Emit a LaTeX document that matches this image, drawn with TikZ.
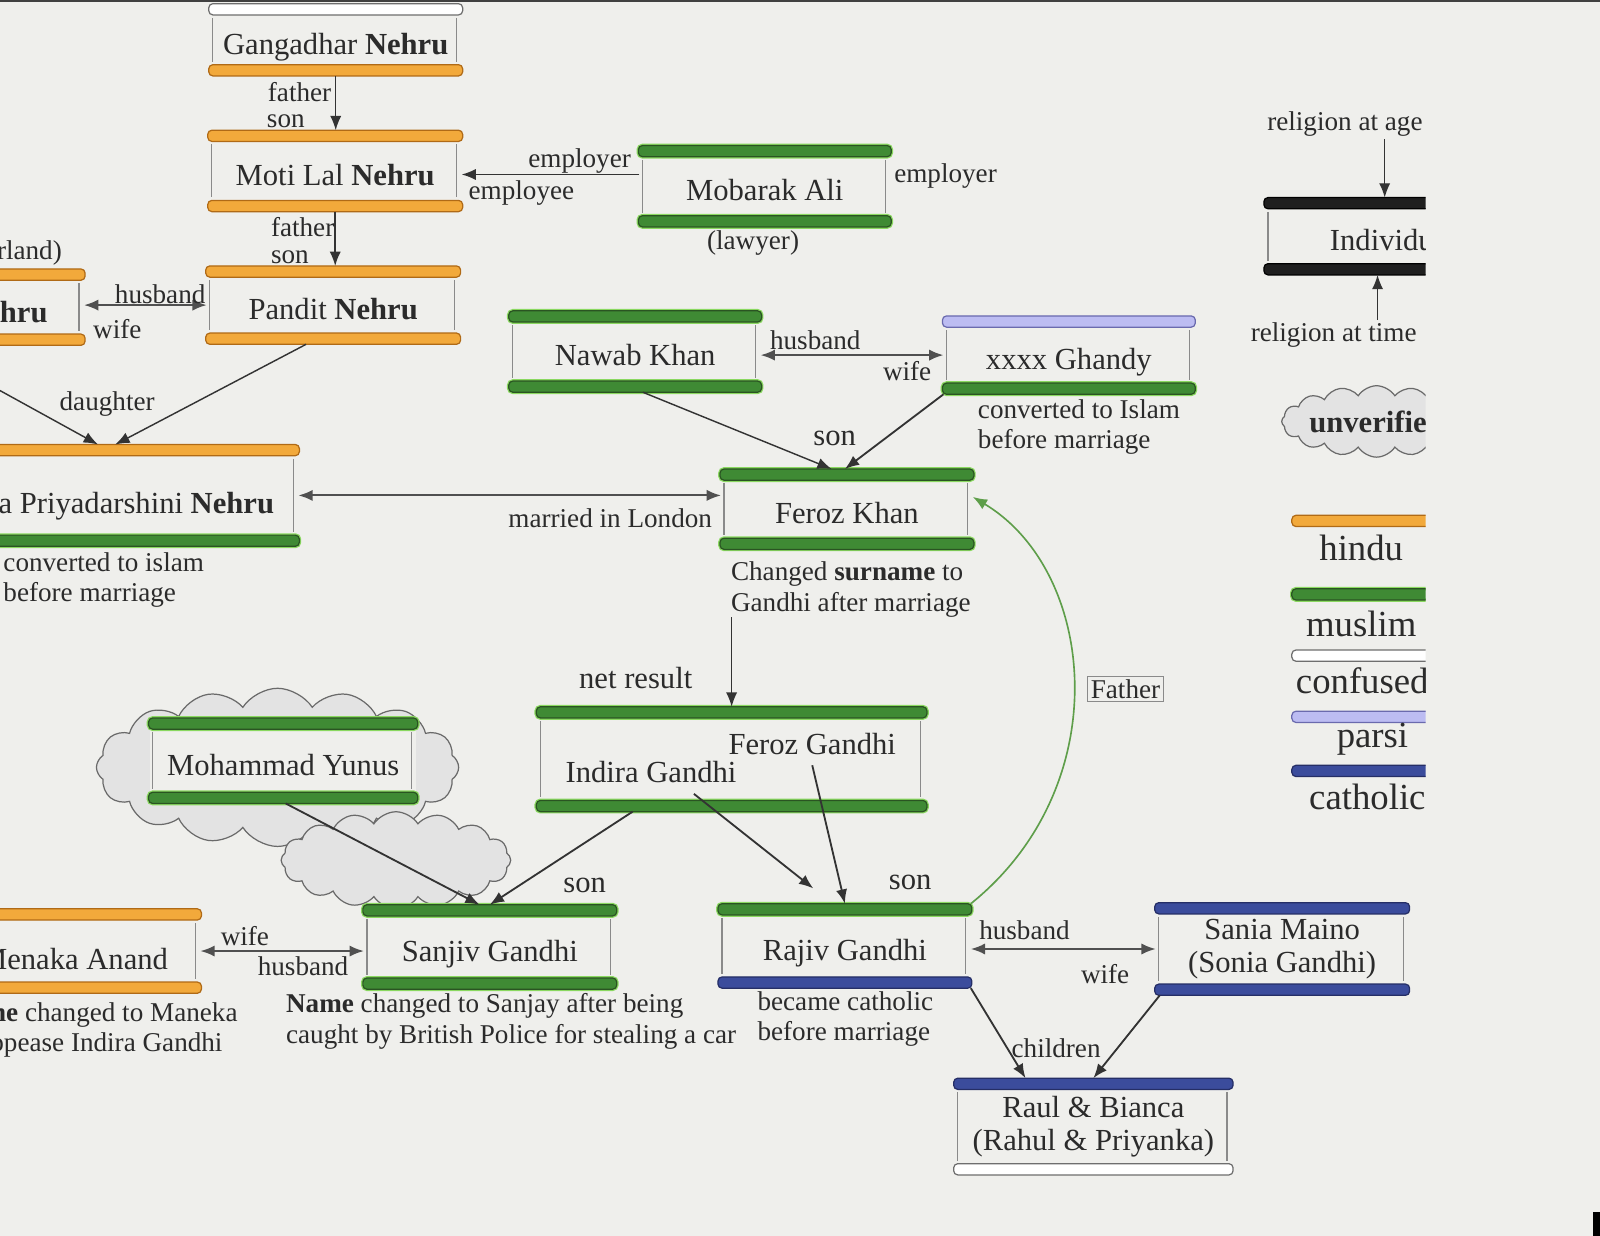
\documentclass[tikz,border=0pt]{standalone}
\usepackage{fontspec}
\setmainfont{Liberation Serif}
\usetikzlibrary{arrows.meta,shapes.symbols}

\definecolor{bg}{HTML}{EFEFEC}
\definecolor{textC}{HTML}{2B2B2B}
\definecolor{lineC}{HTML}{333333}
\definecolor{dblC}{HTML}{505050}
\definecolor{sideC}{HTML}{8A8A8A}
\definecolor{hinduC}{HTML}{F2A93B}
\definecolor{hinduD}{HTML}{B06A16}
\definecolor{muslimC}{HTML}{3F8A34}
\definecolor{muslimD}{HTML}{2A5422}
\definecolor{muslimG}{HTML}{8AD860}
\definecolor{parsiC}{HTML}{BCBCF2}
\definecolor{parsiD}{HTML}{6A6AAE}
\definecolor{cathC}{HTML}{3B4C9C}
\definecolor{cathD}{HTML}{252E66}
\definecolor{confD}{HTML}{6E6E6E}
\definecolor{cloudC}{HTML}{E3E3E3}
\definecolor{cloudD}{HTML}{6A6A6A}
\definecolor{fatherC}{HTML}{5E9E4A}

\newcommand{\namefont}{\fontsize{15}{16}\selectfont}
\newcommand{\lblfont}{\fontsize{13.3}{15}\selectfont}
\newcommand{\legfont}{\fontsize{18}{20}\selectfont}

\tikzset{
  bar/.style={line width=0.6pt, rounded corners=2pt},
  hindu/.style={bar, draw=hinduD, fill=hinduC},
  muslim/.style={bar, draw=muslimD, fill=muslimC, preaction={draw=muslimG, line width=1.8pt}},
  confused/.style={bar, draw=confD, fill=white},
  parsi/.style={bar, draw=parsiD, fill=parsiC},
  catholic/.style={bar, draw=cathD, fill=cathC},
  blackbar/.style={bar, draw=black, fill=black!88},
  personbox/.style={rectangle, inner sep=0pt, fill=bg, text=textC, font=\namefont,
    text height=15pt, text depth=1pt},
  twoline/.style={text height=, text depth=, align=center},
  sideline/.style={draw=sideC, line width=0.6pt},
  lbl/.style={text=textC, font=\lblfont, inner sep=1pt},
  biglbl/.style={lbl, font=\namefont},
  note/.style={text=textC, font=\lblfont, align=left, inner sep=0pt},
  legtxt/.style={text=textC, font=\legfont, inner sep=0pt},
  arr/.style={-{Latex[length=7pt,width=5.5pt]}, draw=lineC, line width=0.7pt},
  dbl/.style={{Latex[length=7pt,width=5.5pt]}-{Latex[length=7pt,width=5.5pt]}, draw=dblC, line width=1pt},
  fatherarr/.style={-{Latex[length=7pt,width=5.5pt]}, draw=fatherC, line width=0.8pt},
  puff/.style={cloud, cloud puffs=16, cloud puff arc=115, cloud ignores aspect,
    draw=cloudD, fill=cloudC, line width=0.6pt, inner sep=0pt},
}

% person: text area between a top bar (religion at age) and a bottom bar (religion at time)
\newcommand{\member}[6][]{%
  \node[personbox, #1] (#2) at (#3) {#6};
  \draw[#4] ([xshift=-0.5pt]#2.north west) rectangle ([xshift=0.5pt,yshift=5.5pt]#2.north east);
  \draw[#5] ([xshift=-0.5pt]#2.south west) rectangle ([xshift=0.5pt,yshift=-5.5pt]#2.south east);
  \draw[sideline] ([xshift=1.5pt,yshift=-1.5pt]#2.north west) -- ([xshift=1.5pt,yshift=1.5pt]#2.south west);
  \draw[sideline] ([xshift=-2.5pt,yshift=-1.5pt]#2.north east) -- ([xshift=-2.5pt,yshift=1.5pt]#2.south east);
  \coordinate (#2-t) at ([yshift=5.5pt]#2.north);
  \coordinate (#2-b) at ([yshift=-5.5pt]#2.south);
}

\begin{document}
\begin{tikzpicture}[x=0.5pt, y=-0.5pt]
  % Draw page
  \fill[bg] (0,0) rectangle (1568,1211);
  \useasboundingbox (0,0) rectangle (1568,1211);
  \draw[black!75, line width=1pt] (0,1) -- (1568,1);
  \fill[black] (1561,1188) rectangle (1568,1211);

  % Draw clouds
  \node[puff, minimum width=177.5pt, minimum height=77.5pt] (cloudA) at (272,752) {};
  \node[puff, minimum width=112.5pt, minimum height=47.5pt] (cloudB) at (388,843) {};

  % Draw Nehru line
  \member[minimum width=123pt, minimum height=24pt]{gang}{329,39}{confused}{hindu}{Gangadhar \textbf{Nehru}}
  \member[minimum width=123.5pt, minimum height=28.5pt]{moti}{328.5,167.5}{hindu}{hindu}{Moti Lal \textbf{Nehru}}
  \member[minimum width=123.5pt, minimum height=27pt]{pandit}{326.5,299}{hindu}{hindu}{Pandit \textbf{Nehru}}
  \member[minimum width=46pt, minimum height=26pt]{kamala}{36,301}{hindu}{hindu}{}
  \node[personbox, fill=none, anchor=east] (kamalatxt) at (47,302) {Kamala \textbf{Nehru}};
  \node[lbl, anchor=east] (kamalaplace) at (63,248) {(Switzerland)};
  \member[minimum width=151pt, minimum height=38.5pt]{indira}{141,485.5}{hindu}{muslim}{}
  \node[personbox, fill=none, anchor=east] (inditxt) at (269,489) {Indira Priyadarshini \textbf{Nehru}};
  \node[note, anchor=north west] (indinote) at (3,541) {converted to islam\\before marriage};

  \draw[arr] (gang-b) -- (gang-b |- moti-t);
  \node[lbl, anchor=east] (fa1) at (327,90) {father};
  \node[lbl, anchor=east] (so1) at (301,119) {son};
  \draw[arr] (moti-b) -- (moti-b |- pandit-t);
  \node[lbl, anchor=east] (fa2) at (330,223) {father};
  \node[lbl, anchor=east] (so2) at (305,252) {son};
  \draw[dbl] (kamala.east |- pandit.west) -- (pandit.west);
  \node[lbl] (hus1) at (157,288) {husband};
  \node[lbl] (wif1) at (115,322) {wife};
  \coordinate (offleft) at (-5,380);
  \draw[arr] (offleft) -- ([xshift=-22.5pt]indira-t);
  \draw[arr] ([xshift=-13.25pt]pandit-b) -- ([xshift=-14pt]indira-t);
  \node[lbl] (dau) at (105,396) {daughter};

  % Draw Mobarak Ali
  \member[minimum width=122.5pt, minimum height=28.5pt]{mobarak}{749.5,182.5}{muslim}{muslim}{Mobarak Ali}
  \draw[arr] ([yshift=5.75pt]mobarak.west) -- ([yshift=5.75pt]mobarak.west -| moti.east);
  \node[lbl] (emr1) at (568,158) {employer};
  \node[lbl] (eme1) at (511,189) {employee};
  \node[lbl, anchor=west] (emr2) at (874,172) {employer};
  \node[lbl] (lawyer) at (738,238) {(lawyer)};

  % Draw Khan line
  \member[minimum width=122.5pt, minimum height=28.5pt]{nawab}{622.5,344.5}{muslim}{muslim}{Nawab Khan}
  \member[minimum width=122.5pt, minimum height=27pt]{ghandy}{1047.5,348}{parsi}{muslim}{xxxx Ghandy}
  \node[note, anchor=north west] (ghandynote) at (958,391) {converted to Islam\\before marriage};
  \draw[dbl] (ghandy.west -| nawab.east) -- (ghandy.west);
  \node[lbl] (hus2) at (799,333) {husband};
  \node[lbl] (wif2) at (889,364) {wife};
  \member[minimum width=123pt, minimum height=28pt]{feroz}{830,499}{muslim}{muslim}{Feroz Khan}
  \draw[arr] ([xshift=3.75pt]nawab-b) -- ([xshift=-7.5pt]feroz-t);
  \draw[arr, line width=0.9pt] ([yshift=-5.5pt]ghandy.south west) -- ([xshift=-1pt]feroz-t);
  \node[biglbl] (son3) at (818,430) {son};
  \node[note, anchor=north west] (ferozn) at (716,550) {Changed \textbf{surname} to\\Gandhi after marriage};
  \draw[dbl] (indira.east) -- (indira.east -| feroz.west);
  \node[lbl] (london) at (598,508) {married in London};

  % Draw net result
  \member[minimum width=190pt, minimum height=40pt]{netres}{717,744}{muslim}{muslim}{}
  \node[biglbl] (netlbl) at (623,664) {net result};
  \node[biglbl] (fgtxt) at (796,729) {Feroz Gandhi};
  \node[biglbl] (igtxt) at (638,757) {Indira Gandhi};
  \draw[arr] (netres-t |- ferozn.south) -- (netres-t);

  % Draw sons
  \member[minimum width=130.5pt, minimum height=30.5pt]{yunus}{277.5,745.5}{muslim}{muslim}{Mohammad Yunus}
  \member[minimum width=123pt, minimum height=30pt]{sanjiv}{480,928}{muslim}{muslim}{Sanjiv Gandhi}
  \member[minimum width=103pt, minimum height=30pt]{menaka}{93,932}{hindu}{hindu}{}
  \node[personbox, fill=none, anchor=east] (menakatxt) at (165,936) {Menaka Anand};
  \node[note, anchor=north west] (menakanote) at (-49,982) {\textbf{Name} changed to Maneka\\to appease Indira Gandhi};
  \node[note, anchor=north west] (sanjivnote) at (280,973) {\textbf{Name} changed to Sanjay after being\\caught by British Police for stealing a car};
  \draw[arr, line width=0.9pt] ([xshift=1.25pt]yunus-b) -- ([xshift=-5pt]sanjiv-t);
  \draw[arr, line width=0.9pt] ([xshift=-48.5pt]netres-b) -- (sanjiv-t);
  \node[biglbl] (son4) at (573,868) {son};
  \draw[dbl] (menaka.east) -- (menaka.east -| sanjiv.west);
  \node[lbl] (wif3) at (240,917) {wife};
  \node[lbl] (hus3) at (297,947) {husband};

  \member[minimum width=123pt, minimum height=30pt]{rajiv}{828,927}{muslim}{catholic}{Rajiv Gandhi}
  \node[note, anchor=north west] (rajivnote) at (742,971) {became catholic\\before marriage};
  \draw[arr, line width=0.9pt] ([xshift=21pt,yshift=-4pt]igtxt.south) -- ([xshift=-15.5pt,yshift=7.5pt]rajiv-t);
  \draw[arr, line width=0.9pt] ([yshift=-4pt]fgtxt.south) -- (rajiv-t);
  \node[biglbl] (son5) at (892,865) {son};
  \draw[fatherarr] ([yshift=5.5pt]rajiv.north east) .. controls (1095,770) and (1075,560) .. ([yshift=6pt]feroz.east);
  \node[lbl, draw=sideC, line width=0.4pt, inner sep=1.5pt] (fatherlbl) at (1103,675) {Father};

  % Draw Sonia and children
  \member[minimum width=123.5pt, minimum height=34pt, twoline]{sania}{1256.5,930}{catholic}{catholic}{Sania Maino\\(Sonia Gandhi)}
  \draw[dbl] (sania.west -| rajiv.east) -- (sania.west);
  \node[lbl] (hus4) at (1004,912) {husband};
  \node[lbl] (wif4) at (1083,955) {wife};
  \member[minimum width=135.5pt, minimum height=36pt, twoline]{raul}{1071.5,1104}{catholic}{confused}{Raul \& Bianca\\(Rahul \& Priyanka)}
  \draw[arr, line width=0.9pt] ([yshift=-5.5pt]rajiv.south east) -- ([xshift=-33.25pt]raul-t);
  \draw[arr, line width=0.9pt] ([xshift=2pt,yshift=-5.5pt]sania.south west) -- (raul-t);
  \node[lbl] (child) at (1035,1027) {children};

  % Draw legend
  \begin{scope}
    \clip (1190,90) rectangle (1397,800);
    \node[lbl] (relage) at (1318,122) {religion at age};
    \member[minimum width=125pt, minimum height=26.5pt]{indiv}{1365,231.5}{blackbar}{blackbar}{Individual}
    \node[lbl] (reltime) at (1307,328) {religion at time};
    \draw[arr] ([xshift=19.5pt]relage.south) -- ([xshift=-4pt]indiv-t);
    \draw[arr] ([xshift=21.5pt]reltime.north) -- ([xshift=-7.5pt]indiv-b);
    \node[puff, minimum width=91pt, minimum height=35pt, text=textC, font={\namefont\bfseries}] (unver) at (1349,413) {unverified};
    \foreach \y/\rel/\cx/\ty in {505/hindu/1334/537, 577/muslim/1334/611, 637/confused/1335/667, 697/parsi/1345/724, 750/catholic/1340/781}
    {
      \draw[\rel] (1266,\y) rectangle (1430,\y+11);
      \node[legtxt] (leg-\rel) at (\cx,\ty) {\rel};
    }
  \end{scope}
\end{tikzpicture}
\end{document}
